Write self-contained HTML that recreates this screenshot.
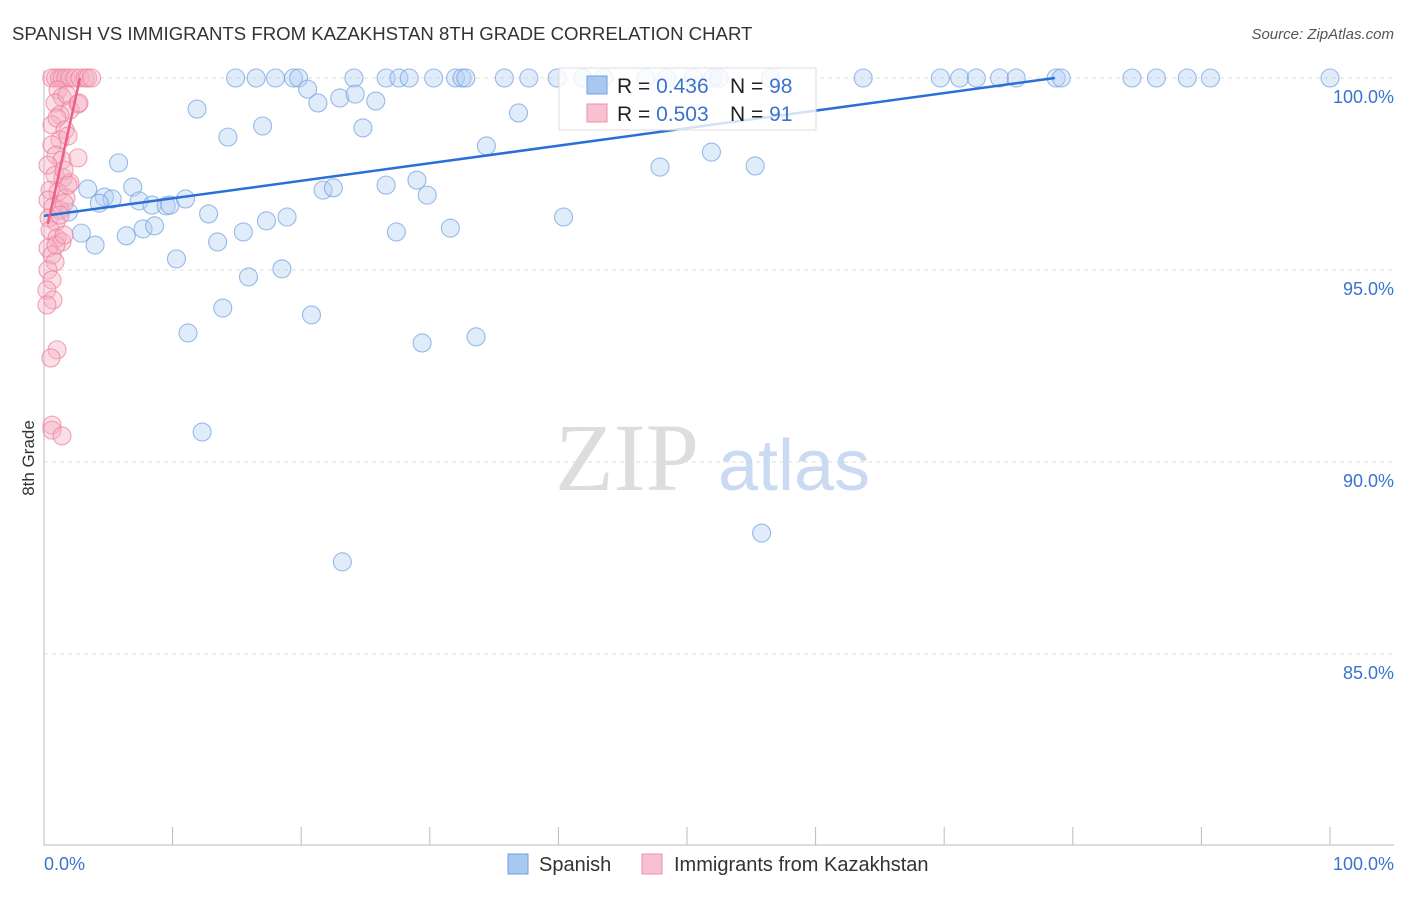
<!DOCTYPE html>
<html><head><meta charset="utf-8"><style>
body{margin:0;background:#fff;font-family:"Liberation Sans",sans-serif}
</style></head><body>
<svg id="chart" width="1406" height="892" xmlns="http://www.w3.org/2000/svg">
<text x="12" y="40" font-size="18.6" fill="#333">SPANISH VS IMMIGRANTS FROM KAZAKHSTAN 8TH GRADE CORRELATION CHART</text>
<text x="1394" y="39" font-size="15" fill="#555" font-style="italic" text-anchor="end">Source: ZipAtlas.com</text>
<text x="34" y="458" font-size="17" fill="#333" text-anchor="middle" transform="rotate(-90 34 458)">8th Grade</text>
<g id="grid"></g>
<text x="555" y="490" font-size="96" fill="#ddd" font-family="Liberation Serif,serif">ZIP</text>
<text x="718" y="490" font-size="72" fill="#c9daf2">atlas</text>
<g id="pts"></g>
<g id="lines"></g>
<g>
<rect x="559" y="68" width="257" height="62" fill="#fff" fill-opacity="0.8" stroke="#ddd"/>
<rect x="587" y="76" width="20" height="18" fill="#a8c8f0" stroke="#6fa0e0"/>
<text x="617" y="93" font-size="21" fill="#222">R = <tspan fill="#3a72d0">0.436</tspan></text>
<text x="730" y="93" font-size="21" fill="#222">N = <tspan fill="#3a72d0">98</tspan></text>
<rect x="587" y="104" width="20" height="18" fill="#f8c0d0" stroke="#ee90aa"/>
<text x="617" y="121" font-size="21" fill="#222">R = <tspan fill="#3a72d0">0.503</tspan></text>
<text x="730" y="121" font-size="21" fill="#222">N =  <tspan fill="#3a72d0">91</tspan></text>
</g>
<rect x="508" y="854" width="20" height="20" fill="#a8c8f0" stroke="#6fa0e0"/>
<text x="539" y="871" font-size="20" fill="#333">Spanish</text>
<rect x="642" y="854" width="20" height="20" fill="#f8c0d0" stroke="#ee90aa"/>
<text x="674" y="871" font-size="20" fill="#333">Immigrants from Kazakhstan</text>
<text x="44" y="870" font-size="18" fill="#3a72d0">0.0%</text>
<text x="1394" y="870" font-size="18" fill="#3a72d0" text-anchor="end">100.0%</text>
</svg>
<script>
const yTicks=[100,95,90,85];
const blueTop=[14.9,16.5,18.0,19.4,19.8,24.1,26.6,27.6,28.4,30.3,32.0,32.5,32.8,35.8,37.7,39.9,41.9,43.5,46.8,48.4,50.5,52.0,52.5,56.5,63.7,69.7,71.2,72.5,74.3,75.6,78.7,79.1,84.6,86.5,88.9,90.7,100];
const blueX=[11.9,20.5,21.3,23.0,24.2,25.8,36.9,14.3,17.0,24.8,34.4,5.8,47.9,51.9,55.3,3.4,6.9,4.7,5.3,4.3,7.4,8.4,9.5,9.8,11.0,1.9,21.7,22.5,26.6,29.0,29.8,12.8,18.9,17.3,40.4,2.9,6.4,7.7,8.6,15.5,13.5,27.4,31.6,3.97,10.3,15.9,18.5,13.9,20.8,11.2,29.4,33.6,12.3,23.2,55.8];
const blueY=[99.19,99.71,99.35,99.48,99.58,99.40,99.09,98.46,98.75,98.70,98.23,97.79,97.68,98.07,97.71,97.11,97.16,96.90,96.85,96.74,96.80,96.69,96.67,96.69,96.85,96.51,97.08,97.14,97.21,97.34,96.95,96.46,96.38,96.28,96.38,95.96,95.89,96.07,96.15,95.99,95.73,95.99,96.09,95.65,95.29,94.82,95.03,94.01,93.83,93.36,93.10,93.26,90.78,87.40,88.15];
const pinkTop=[0.6,0.9,1.2,1.4,1.7,2.0,2.4,2.8,3.2,3.4,3.7];
const pinkX=[1.09,1.4,0.86,1.79,2.64,2.02,1.24,2.72,0.62,1.01,1.63,1.24,0.62,0.93,1.4,2.64,0.31,0.86,1.48,2.02,0.47,1.09,1.71,0.31,0.7,1.24,1.56,0.39,0.93,0.47,1.01,1.4,0.31,0.62,0.86,0.31,0.62,0.23,0.7,0.23,1.01,0.54,0.62,0.62,1.4,1.87,1.56,1.87,0.93,1.24,1.56];
const pinkY=[99.69,99.51,99.35,99.56,99.32,99.17,99.04,99.35,98.78,98.96,98.65,98.39,98.26,97.99,97.86,97.92,97.73,97.47,97.40,97.27,97.08,97.03,96.88,96.82,96.64,96.56,96.74,96.35,96.25,96.04,95.83,95.73,95.57,95.39,95.21,95.0,94.74,94.48,94.22,94.09,92.92,92.71,90.96,90.83,90.68,98.49,97.6,97.21,95.65,96.43,95.91];
const blueFit=[96.41,100.0];
const blueFitX=[0,78.6];
const pinkFit=[96.2,100.0];
const pinkFitX=[0.3,2.8];
const NS='http://www.w3.org/2000/svg';
const X=v=>44+v*12.86, Y=v=>78+(100-v)*38.4;
function mk(tag,attrs,parent){const e=document.createElementNS(NS,tag);for(const k in attrs)e.setAttribute(k,attrs[k]);parent.appendChild(e);return e;}
const grid=document.getElementById('grid');
yTicks.forEach(t=>{
 const l=mk('line',{x1:44,x2:1394,y1:Y(t),y2:Y(t),stroke:'#ddd','stroke-dasharray':'4,4'},grid);
 
 
 const tx=mk('text',{x:1394,y:Y(t)+25,'font-size':18,fill:'#3a72d0','text-anchor':'end'},grid);
 tx.textContent=t.toFixed(1)+'%';
 
 
});
const ax=mk('line',{x1:44,x2:1394,y1:845,y2:845,stroke:'#bbb'},grid);


const ay=mk('line',{x1:44,x2:44,y1:70,y2:845,stroke:'#bbb'},grid);


for(let i=0;i<=10;i++){
 const t=mk('line',{x1:X(i*10),x2:X(i*10),y1:827,y2:845,stroke:'#bbb'},grid);
 
 
}
const pts=document.getElementById('pts');
function dot(x,y,c,s,name){const e=mk('circle',{cx:X(x),cy:Y(y),r:9,fill:c,'fill-opacity':0.4,stroke:s,'stroke-opacity':0.7,'stroke-width':1.1},pts);
 
 }
blueTop.forEach(x=>dot(x,100,'#b4d0f4','#6fa0e0','spanish-point'));
blueX.forEach((x,i)=>dot(x,blueY[i],'#b4d0f4','#6fa0e0','spanish-point'));
pinkTop.forEach(x=>dot(x,100,'#f6b0c4','#ec7c9c','kazakhstan-point'));
pinkX.forEach((x,i)=>dot(x,pinkY[i],'#f6b0c4','#ec7c9c','kazakhstan-point'));
const lines=document.getElementById('lines');
const bl=mk('line',{x1:X(blueFitX[0]),y1:Y(blueFit[0]),x2:X(blueFitX[1]),y2:Y(blueFit[1]),stroke:'#2a6fd6','stroke-width':2.5},lines);


const pl=mk('line',{x1:X(pinkFitX[0]),y1:Y(pinkFit[0]),x2:X(pinkFitX[1]),y2:Y(pinkFit[1]),stroke:'#ec5f88','stroke-width':2.5},lines);


</script>
</body></html>
